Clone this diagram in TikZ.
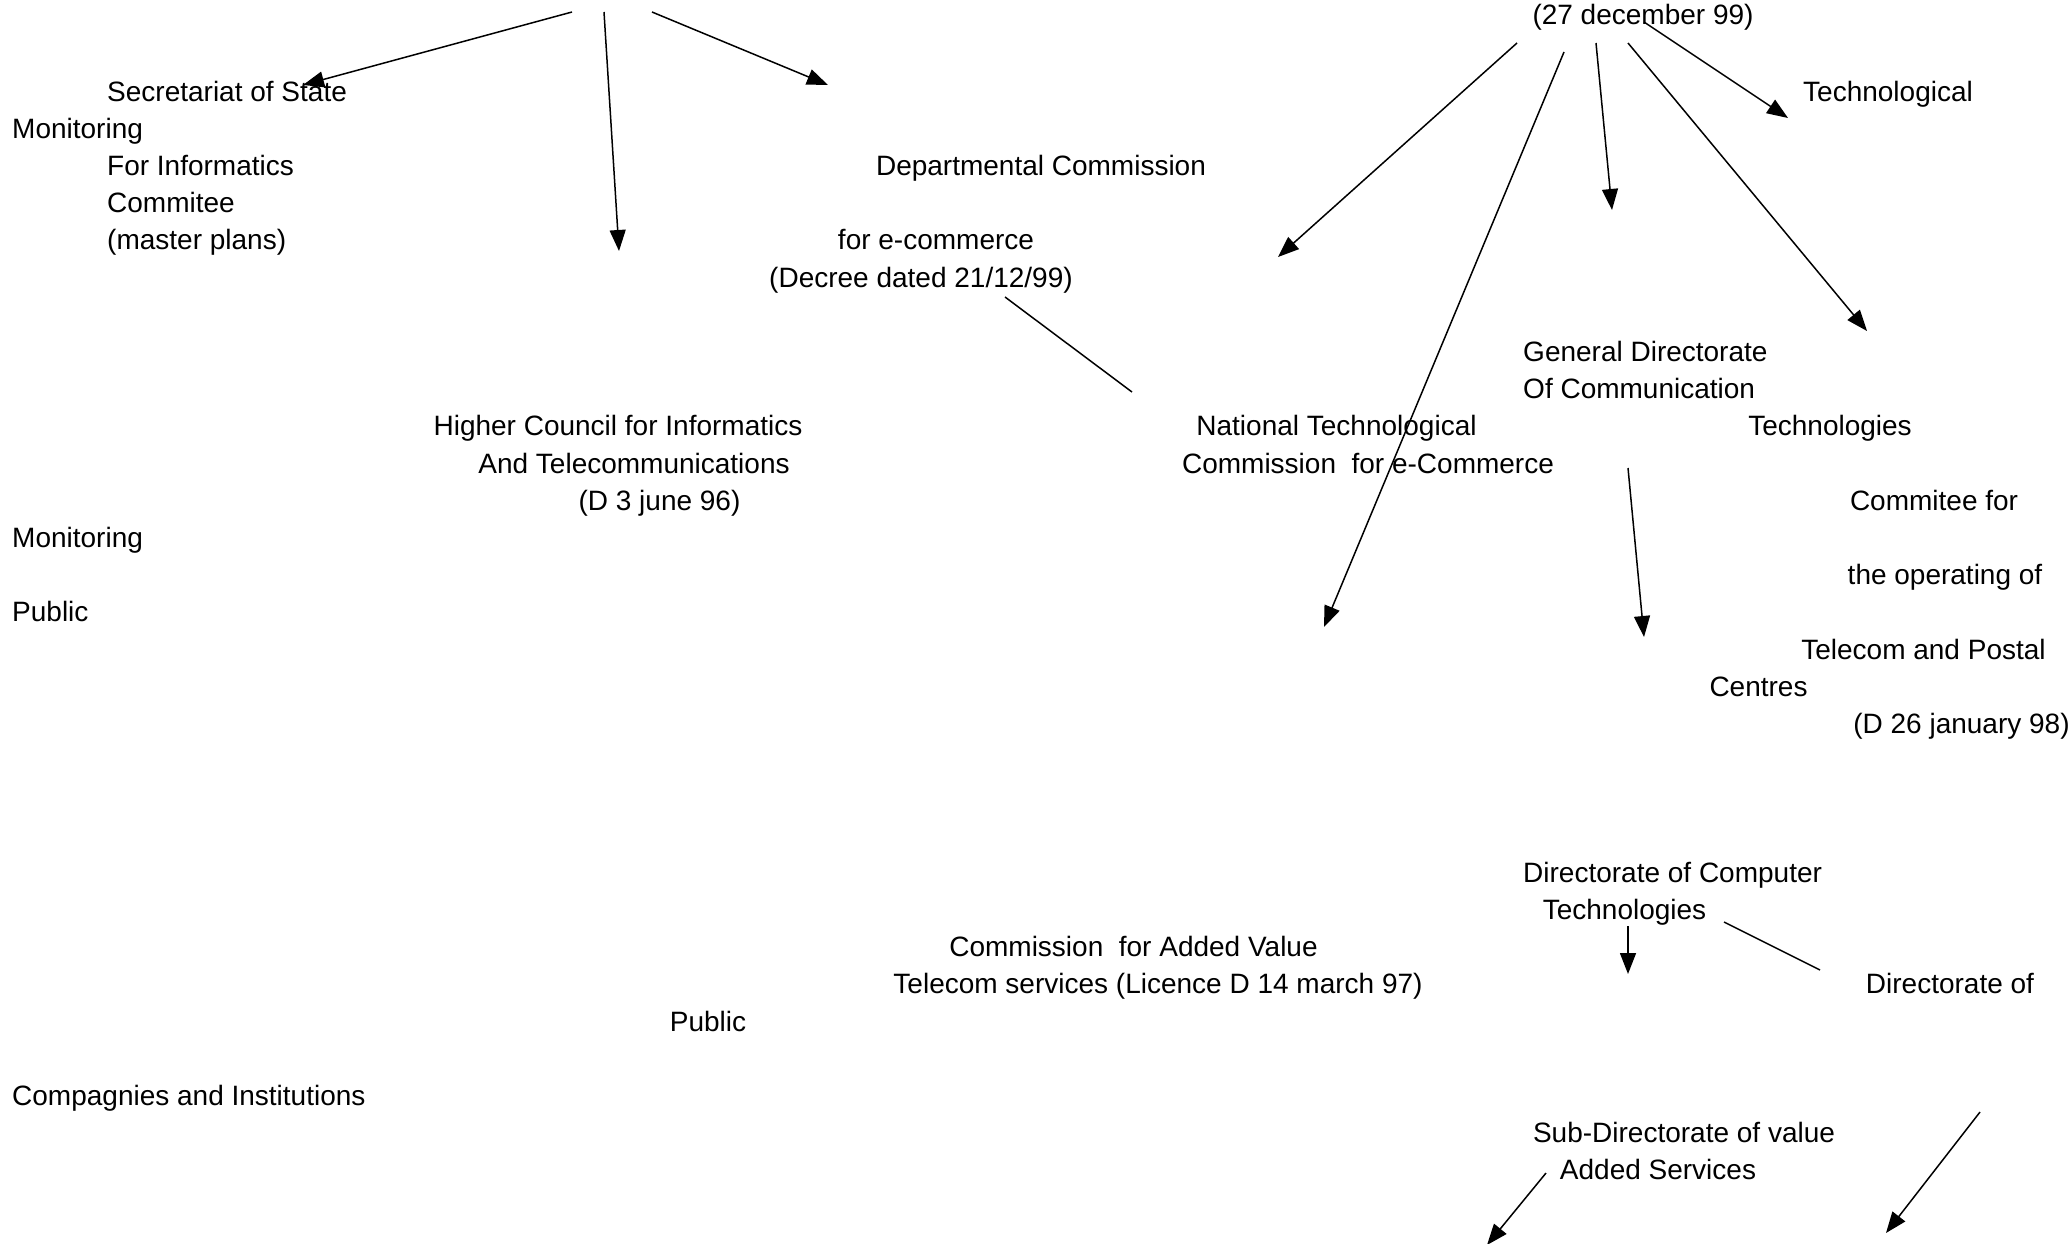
\documentclass[tikz,border=0pt]{standalone}
\usepackage{fontspec}
\setmainfont{Liberation Sans}
\usetikzlibrary{arrows.meta}
\begin{document}
\begin{tikzpicture}[x=1pt,y=-1pt,
  lbl/.style={anchor=base,inner sep=0pt,font=\fontsize{28}{33}\selectfont},
  lbw/.style={lbl,anchor=base west},
  arr/.style={line width=1.5pt,-{Triangle[length=21pt,width=16pt]}},
  ln/.style={line width=1.5pt}]
\useasboundingbox (0,0) rectangle (2072,1243);
% texts
\node[lbl] (t1) at (1643,24) {(27 december 99)};
\node[lbw] (t2) at (107,101) {Secretariat of State};
\node[lbl] (t3) at (1888,101) {Technological};
\node[lbw] (t4) at (12,138.2) {Monitoring};
\node[lbw] (t5) at (107,175.4) {For Informatics};
\node[lbl] (t6) at (1041,175.4) {Departmental Commission};
\node[lbw] (t7) at (107,212.6) {Commitee};
\node[lbw] (t8) at (107,249.8) {(master plans)};
\node[lbl] (t9) at (936,249.8) {for e-commerce};
\node[lbl] (t10) at (921,287) {(Decree dated 21/12/99)};
\node[lbw] (t11) at (1523,361.4) {General Directorate};
\node[lbw] (t12) at (1523,398.6) {Of Communication};
\node[lbl] (t13) at (618,435.8) {Higher Council for Informatics};
\node[lbl] (t14) at (1336.5,435.8) {National Technological};
\node[lbl] (t15) at (1830,435.8) {Technologies};
\node[lbl] (t16) at (634,473) {And Telecommunications};
\node[lbl] (t17) at (1368,473) {Commission\ \ for e-Commerce};
\node[lbl] (t18) at (659.5,510.2) {(D 3 june 96)};
\node[lbl] (t19) at (1934,510.2) {Commitee for};
\node[lbw] (t20) at (12,547.4) {Monitoring};
\node[lbl] (t21) at (1945,584.6) {the operating of};
\node[lbw] (t22) at (12,621.8) {Public};
\node[lbl] (t23) at (1923.5,659) {Telecom and Postal};
\node[lbl] (t24) at (1758.5,696.2) {Centres};
\node[lbl] (t25) at (1961.5,733.4) {(D 26 january 98)};
\node[lbw] (t26) at (1523,882) {Directorate of Computer};
\node[lbl] (t27) at (1624.5,919.4) {Technologies};
\node[lbl] (t28) at (1133.5,956.6) {Commission\ \ for Added Value};
\node[lbl] (t29) at (1158,993.8) {Telecom services (Licence D 14 march 97)};
\node[lbl] (t30) at (1950,993.8) {Directorate of};
\node[lbl] (t31) at (708,1031) {Public};
\node[lbw] (t32) at (12,1105.4) {Compagnies and Institutions};
\node[lbl] (t33) at (1684,1142.6) {Sub-Directorate of value};
\node[lbl] (t34) at (1658,1179.8) {Added Services};
% connector end points
\coordinate (s1) at (572,12);   \coordinate (e1) at (303,85);
\coordinate (s2) at (604,12);   \coordinate (e2) at (619,251);
\coordinate (s3) at (652,12);   \coordinate (e3) at (828,85);
\coordinate (s4) at (1005,297); \coordinate (e4) at (1132,392);
\coordinate (s5) at (1517,43);  \coordinate (e5) at (1278,257);
\coordinate (s6) at (1564,52);  \coordinate (e6) at (1324,627);
\coordinate (s7) at (1596,43);  \coordinate (e7) at (1612,210);
\coordinate (s8) at (1628,43);  \coordinate (e8) at (1867,331);
\coordinate (s9) at (1644,22);  \coordinate (e9) at (1788,118);
\coordinate (s10) at (1628,468); \coordinate (e10) at (1644,637);
\coordinate (s11) at (1628,926); \coordinate (e11) at (1628,974);
\coordinate (s12) at (1724,922); \coordinate (e12) at (1820,970);
\coordinate (s13) at (1546,1173); \coordinate (e13) at (1487,1245);
\coordinate (s14) at (1980,1112); \coordinate (e14) at (1886,1233);
% connectors
\draw[arr] (s1) -- (e1);
\draw[arr] (s2) -- (e2);
\draw[arr] (s3) -- (e3);
\draw[ln] (s4) -- (e4);
\draw[arr] (s5) -- (e5);
\draw[arr] (s6) -- (e6);
\draw[arr] (s7) -- (e7);
\draw[arr] (s8) -- (e8);
\draw[arr] (s9) -- (e9);
\draw[arr] (s10) -- (e10);
\draw[arr] (s11) -- (e11);
\draw[ln] (s12) -- (e12);
\draw[arr] (s13) -- (e13);
\draw[arr] (s14) -- (e14);
\end{tikzpicture}
\end{document}
